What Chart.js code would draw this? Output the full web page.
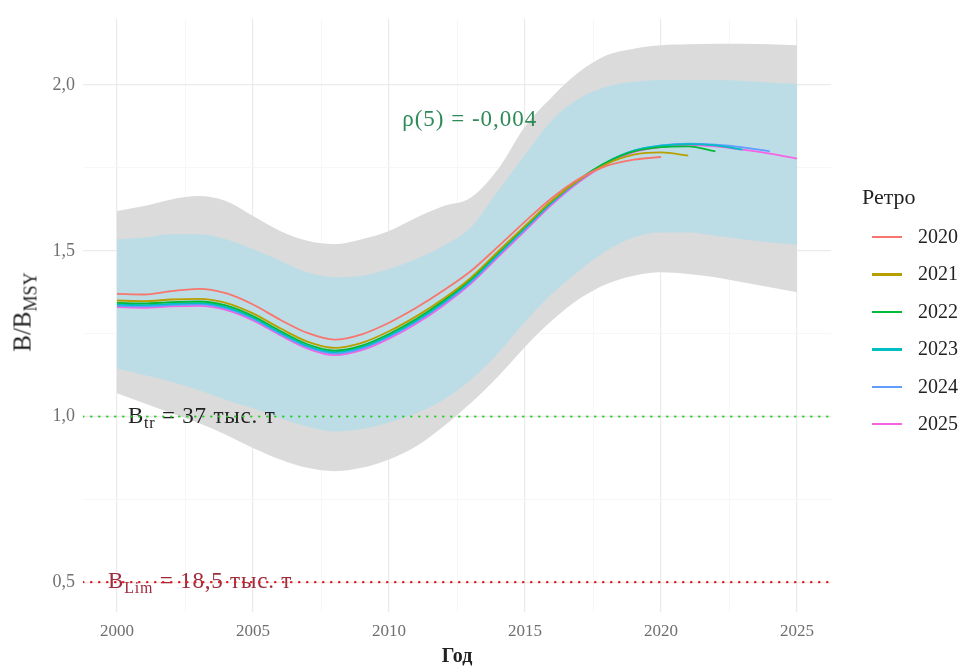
<!DOCTYPE html>
<html lang="ru">
<head>
<meta charset="utf-8">
<script src="https://cdn.jsdelivr.net/npm/chart.js@4.4.1/dist/chart.umd.min.js"></script>
<style>
  html, body { margin: 0; padding: 0; background: #fff; }
  #wrap { position: relative; width: 963px; height: 666px; font-family: "Liberation Serif", "DejaVu Serif", serif; }
  #chart { position: absolute; left: 0; top: 0; }
  #ytitle { position: absolute; left: 25px; top: 312px; transform: translate(-50%, -50%) rotate(-90deg);
            font-size: 25px; color: #222; white-space: nowrap; }
  #ytitle sub { font-size: 18px; vertical-align: -6px; }
  #legend { position: absolute; left: 862px; top: 183px; color: #222; }
  #legend .title { font-size: 22px; height: 54px; line-height: 28px; }
  #legend .item { position: relative; height: 37.4px; font-size: 20px; }
  #legend .key { position: absolute; left: 10px; top: -1px; width: 30px; height: 2.4px; }
  #legend .lab { position: absolute; left: 56px; top: -13px; line-height: 24px; }
</style>
</head>
<body>
<div id="wrap">
  <canvas id="chart" width="963" height="666"></canvas>
  <div id="ytitle">B/B<sub>MSY</sub></div>
  <div id="legend"></div>
</div>
<script>
// ==========================================
// データ
// ==========================================

const YEARS = [2000, 2001, 2002, 2003, 2004, 2005, 2006, 2007, 2008, 2009, 2010, 2011, 2012,
               2013, 2014, 2015, 2016, 2017, 2018, 2019, 2020, 2021, 2022, 2023, 2024, 2025];

// 信頼区間（外側：灰色、内側：水色）
const OUTER_HI = [1.620, 1.635, 1.655, 1.665, 1.650, 1.605, 1.560, 1.530, 1.520, 1.535, 1.560, 1.600, 1.635,
                  1.660, 1.745, 1.875, 1.965, 2.040, 2.090, 2.110, 2.120, 2.123, 2.125, 2.125, 2.123, 2.120];
const OUTER_LO = [1.070, 1.040, 1.010, 0.980, 0.945, 0.905, 0.870, 0.845, 0.835, 0.845, 0.870, 0.910, 0.970,
                  1.040, 1.120, 1.210, 1.290, 1.355, 1.400, 1.425, 1.435, 1.430, 1.420, 1.405, 1.390, 1.375];
const INNER_HI = [1.535, 1.540, 1.550, 1.550, 1.535, 1.505, 1.470, 1.435, 1.420, 1.425, 1.445, 1.475, 1.515,
                  1.570, 1.680, 1.790, 1.895, 1.960, 1.995, 2.010, 2.015, 2.015, 2.015, 2.012, 2.008, 2.003];
const INNER_LO = [1.145, 1.125, 1.105, 1.080, 1.050, 1.025, 0.995, 0.970, 0.955, 0.962, 0.982, 1.010, 1.050,
                  1.110, 1.190, 1.285, 1.370, 1.440, 1.500, 1.540, 1.555, 1.555, 1.545, 1.535, 1.525, 1.518];

// レトロ解析（終了年ごと）
const RETRO_LABELS = ['2020', '2021', '2022', '2023', '2024', '2025'];
const RETRO_2020 = [1.370, 1.368, 1.378, 1.385, 1.372, 1.338, 1.292, 1.252, 1.232, 1.248, 1.283, 1.328, 1.380,
                    1.438, 1.512, 1.588, 1.660, 1.718, 1.756, 1.775, 1.783];
const RETRO_2021 = [1.350, 1.348, 1.353, 1.355, 1.343, 1.311, 1.266, 1.226, 1.207, 1.222, 1.257, 1.302, 1.355,
                    1.418, 1.497, 1.575, 1.652, 1.714, 1.762, 1.790, 1.797, 1.787];
const RETRO_2022 = [1.343, 1.341, 1.345, 1.347, 1.335, 1.303, 1.258, 1.218, 1.199, 1.214, 1.249, 1.294, 1.349,
                    1.414, 1.494, 1.573, 1.651, 1.716, 1.767, 1.800, 1.813, 1.815, 1.800];
const RETRO_2023 = [1.338, 1.336, 1.340, 1.342, 1.330, 1.298, 1.253, 1.213, 1.194, 1.209, 1.244, 1.289, 1.344,
                    1.409, 1.489, 1.569, 1.648, 1.714, 1.767, 1.802, 1.817, 1.822, 1.818, 1.805];
const RETRO_2024 = [1.334, 1.332, 1.336, 1.338, 1.326, 1.294, 1.249, 1.209, 1.190, 1.205, 1.240, 1.285, 1.340,
                    1.405, 1.485, 1.565, 1.645, 1.712, 1.766, 1.802, 1.818, 1.823, 1.820, 1.812, 1.800];
const RETRO_2025 = [1.330, 1.328, 1.332, 1.334, 1.322, 1.290, 1.245, 1.205, 1.185, 1.200, 1.235, 1.280, 1.335,
                    1.400, 1.480, 1.560, 1.640, 1.708, 1.762, 1.798, 1.813, 1.820, 1.815, 1.805, 1.793, 1.778];
const RETRO_COLORS = ['#F8766D', '#B79F00', '#00BA38', '#00BFC4', '#619CFF', '#F564E3'];

// 基準値
const B_TR = 1.0;
const B_LIM = 0.5;
const RHO_TEXT = 'ρ(5) = -0,004';

// 軸目盛
const X_TICKS = [2000, 2005, 2010, 2015, 2020, 2025];
const X_TICK_LABELS = ['2000', '2005', '2010', '2015', '2020', '2025'];
const X_MINOR = [2002.5, 2007.5, 2012.5, 2017.5, 2022.5];
const Y_TICKS = [0.5, 1.0, 1.5, 2.0];
const Y_TICK_LABELS = ['0,5', '1,0', '1,5', '2,0'];
const Y_MINOR = [0.75, 1.25, 1.75];

// ==========================================
// ヘルパー
// ==========================================

const SERIF = '"Liberation Serif", "DejaVu Serif", serif';

function toPoints(values) {
  return values.map((v, i) => ({ x: YEARS[i], y: v }));
}

function band(values, color, fillTarget, order) {
  return {
    data: toPoints(values),
    borderWidth: 0,
    pointRadius: 0,
    backgroundColor: color,
    fill: fillTarget,
    cubicInterpolationMode: 'monotone',
    order: order
  };
}

function refLine(y, color, id) {
  return {
    refId: id,
    data: [{ x: 1998.75, y: y }, { x: 2026.25, y: y }],
    borderColor: color,
    borderWidth: 2.2,
    borderDash: [0.5, 7.5],
    borderCapStyle: 'round',
    pointRadius: 0,
    fill: false,
    order: 0
  };
}

// 下付き文字付きテキスト
function drawSubText(ctx, x, y, main, sub, rest, size, color) {
  ctx.save();
  ctx.fillStyle = color;
  ctx.textBaseline = 'middle';
  ctx.textAlign = 'left';
  ctx.letterSpacing = '0.8px';
  ctx.font = size + 'px ' + SERIF;
  ctx.fillText(main, x, y);
  let w = ctx.measureText(main).width;
  ctx.font = Math.round(size * 0.7) + 'px ' + SERIF;
  ctx.fillText(sub, x + w, y + size * 0.3);
  w += ctx.measureText(sub).width;
  ctx.font = size + 'px ' + SERIF;
  ctx.fillText(rest, x + w, y);
  ctx.restore();
}

// 注記（基準線の直前に描画）
let labelsDrawn = false;
const annotationPlugin = {
  id: 'annotations',
  beforeDatasetsDraw() { labelsDrawn = false; },
  beforeDatasetDraw(chart, args) {
    const ds = chart.data.datasets[args.index];
    if (!ds.refId || labelsDrawn) return;
    labelsDrawn = true;
    const xs = chart.scales.x, ys = chart.scales.y, ctx = chart.ctx;
    drawSubText(ctx, xs.getPixelForValue(2000.4), ys.getPixelForValue(B_TR),
                'B', 'tr', ' = 37 тыс. т', 23, '#222');
    drawSubText(ctx, xs.getPixelForValue(1999.67), ys.getPixelForValue(B_LIM),
                'B', 'Lim', ' = 18,5 тыс. т', 23, '#9e2a3a');
    ctx.save();
    ctx.fillStyle = '#2e8b57';
    ctx.letterSpacing = '1px';
    ctx.font = '23px ' + SERIF;
    ctx.textAlign = 'center';
    ctx.textBaseline = 'middle';
    ctx.fillText(RHO_TEXT, xs.getPixelForValue(2012.97), ys.getPixelForValue(1.895));
    ctx.restore();
  }
};

// ==========================================
// グラフ
// ==========================================

const retroSeries = [RETRO_2020, RETRO_2021, RETRO_2022, RETRO_2023, RETRO_2024, RETRO_2025];

const datasets = [
  band(OUTER_HI, '#dbdbdb', 1, 100),
  band(OUTER_LO, '#dbdbdb', false, 100),
  band(INNER_HI, '#bddde6', 3, 50),
  band(INNER_LO, '#bddde6', false, 50)
];
retroSeries.forEach((vals, i) => {
  datasets.push({
    label: RETRO_LABELS[i],
    data: toPoints(vals),
    borderColor: RETRO_COLORS[i],
    borderWidth: 1.8,
    pointRadius: 0,
    fill: false,
    cubicInterpolationMode: 'monotone',
    order: 1
  });
});
datasets.push(refLine(B_TR, '#33cc33', 'tr'));
datasets.push(refLine(B_LIM, '#e32228', 'lim'));

new Chart(document.getElementById('chart'), {
  type: 'line',
  data: { datasets: datasets },
  options: {
    responsive: false,
    animation: false,
    devicePixelRatio: 1,
    layout: { padding: { left: 0, right: 132, top: 16, bottom: 0 } },
    plugins: {
      legend: { display: false },
      tooltip: { enabled: false },
      filler: { propagate: false }
    },
    scales: {
      x: {
        type: 'linear',
        min: 1998.75,
        max: 2026.25,
        afterBuildTicks: s => {
          s.ticks = X_TICKS.concat(X_MINOR).sort((a, b) => a - b).map(v => ({ value: v }));
        },
        afterFit: s => { s.height = 54; },
        border: { display: false },
        grid: {
          drawTicks: false,
          color: c => X_TICKS.includes(c.tick.value) ? '#ebebeb' : '#f4f4f4',
          lineWidth: c => X_TICKS.includes(c.tick.value) ? 1.2 : 0.7
        },
        ticks: {
          padding: 9,
          color: '#707070',
          font: { family: SERIF, size: 17 },
          maxRotation: 0,
          autoSkip: false,
          callback: v => {
            const i = X_TICKS.indexOf(v);
            return i >= 0 ? X_TICK_LABELS[i] : '';
          }
        },
        title: {
          display: true,
          text: 'Год',
          color: '#222',
          font: { family: SERIF, size: 20, weight: 'bold' },
          padding: { top: 0, bottom: -3 }
        }
      },
      y: {
        type: 'linear',
        min: 0.41,
        max: 2.20,
        afterBuildTicks: s => {
          s.ticks = Y_TICKS.concat(Y_MINOR).sort((a, b) => a - b).map(v => ({ value: v }));
        },
        afterFit: s => { s.width = 83; },
        border: { display: false },
        grid: {
          drawTicks: false,
          color: c => Y_TICKS.includes(c.tick.value) ? '#ebebeb' : '#f4f4f4',
          lineWidth: c => Y_TICKS.includes(c.tick.value) ? 1.2 : 0.7
        },
        ticks: {
          padding: 8,
          color: '#707070',
          font: { family: SERIF, size: 18 },
          autoSkip: false,
          callback: v => {
            const i = Y_TICKS.indexOf(v);
            return i >= 0 ? Y_TICK_LABELS[i] : '';
          }
        }
      }
    }
  },
  plugins: [annotationPlugin]
});

// ==========================================
// 凡例
// ==========================================

const legend = document.getElementById('legend');
const title = document.createElement('div');
title.className = 'title';
title.textContent = 'Ретро';
legend.appendChild(title);
RETRO_LABELS.forEach((lab, i) => {
  const item = document.createElement('div');
  item.className = 'item';
  item.innerHTML = '<div class="key" style="background:' + RETRO_COLORS[i] + '"></div>' +
                   '<div class="lab">' + lab + '</div>';
  legend.appendChild(item);
});
</script>
</body>
</html>
